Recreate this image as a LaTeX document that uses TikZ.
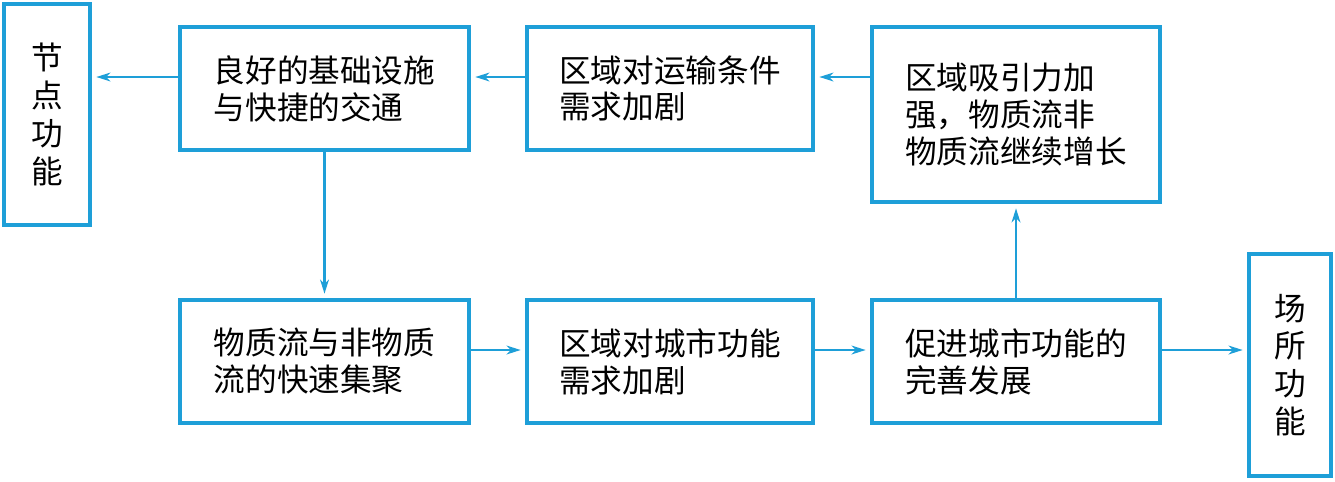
\documentclass[tikz,border=0pt]{standalone}
\usepackage{fontspec}
\newfontfamily\cjk{Noto Sans CJK SC}
\usetikzlibrary{arrows.meta}
\definecolor{bl}{HTML}{1E9FD8}
\tikzset{
  box/.style={draw=bl, line width=2.2pt, align=left, inner sep=0pt,
    font=\cjk\fontsize{18}{21}\selectfont},
  vbox/.style={draw=bl, line width=2.2pt, align=center, inner sep=0pt,
    font=\cjk\fontsize{18}{21.5}\selectfont},
  arr/.style={draw=bl, line width=1.3pt, -{Stealth[length=8pt,width=5pt,inset=2.5pt]}, shorten >=2.5pt}
}
\begin{document}
\begin{tikzpicture}[x=0.02cm,y=-0.02cm]
\useasboundingbox (0,0) rectangle (1335,481);
\node[vbox, minimum width=86*0.02cm, minimum height=221*0.02cm] (jd) at (47,114.5) {节\\点\\功\\能};
\node[box, minimum width=289*0.02cm, minimum height=123*0.02cm] (hh) at (324.5,88.5) {良好的基础设施\\与快捷的交通};
\node[box, minimum width=286*0.02cm, minimum height=123*0.02cm] (ys) at (670,88.5) {区域对运输条件\\需求加剧};
\node[box, minimum width=288*0.02cm, minimum height=175*0.02cm] (xy) at (1016,114.5) {区域吸引力加\\强，物质流非\\物质流继续增长};
\node[box, minimum width=289*0.02cm, minimum height=123*0.02cm] (wz) at (324.5,361.5) {物质流与非物质\\流的快速集聚};
\node[box, minimum width=286*0.02cm, minimum height=123*0.02cm] (cs) at (670,361.5) {区域对城市功能\\需求加剧};
\node[box, minimum width=288*0.02cm, minimum height=123*0.02cm] (cj) at (1016,361.5) {促进城市功能的\\完善发展};
\node[vbox, minimum width=82*0.02cm, minimum height=222*0.02cm] (cg) at (1290,365) {场\\所\\功\\能};
\coordinate (r1) at (0,77);
\coordinate (r2) at (0,350);
\draw[arr] (hh.west |- r1) -- (jd.east |- r1);
\draw[arr] (ys.west |- r1) -- (hh.east |- r1);
\draw[arr] (xy.west |- r1) -- (ys.east |- r1);
\draw[arr] (hh.south) -- (wz.north);
\draw[arr] (wz.east |- r2) -- (cs.west |- r2);
\draw[arr] (cs.east |- r2) -- (cj.west |- r2);
\draw[arr] (cj.east |- r2) -- (cg.west |- r2);
\draw[arr] (cj.north) -- (xy.south);
\end{tikzpicture}
\end{document}
